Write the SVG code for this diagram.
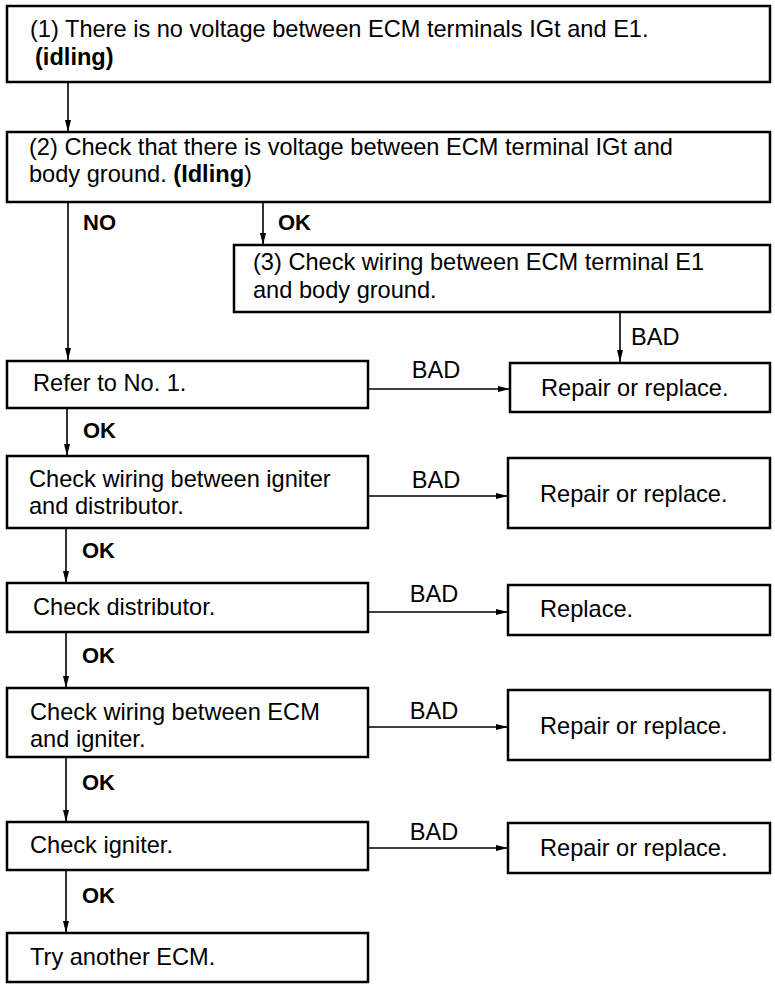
<svg xmlns="http://www.w3.org/2000/svg" width="775" height="984" viewBox="0 0 775 984">
<style>
.box{fill:#fff;stroke:#000;stroke-width:2.5}
.t{font-family:"Liberation Sans",Arial,sans-serif;font-size:23.6px;fill:#000}
.b{font-weight:bold}
.lbl{font-family:"Liberation Sans",Arial,sans-serif;font-size:22px;font-weight:bold;fill:#000}
.bad{font-family:"Liberation Sans",Arial,sans-serif;font-size:23.6px;fill:#000;text-anchor:middle}
.c{fill:none;stroke:#000;stroke-width:1.6;marker-end:url(#ah)}
</style>
<defs>
<marker id="ah" viewBox="0 0 12 8" refX="12" refY="4" markerWidth="12" markerHeight="8" markerUnits="userSpaceOnUse" orient="auto">
<path d="M0,1 L12,4 L0,7 Z" fill="#000"/>
</marker>
</defs>
<g id="connectors">
<path class="c" d="M68,82 V132"/>
<path class="c" d="M68,202 V360"/>
<path class="c" d="M263,202 V245"/>
<path class="c" d="M620,312 V362"/>
<path class="c" d="M368,389 H510"/>
<path class="c" d="M67,408 V456"/>
<path class="c" d="M368,496 H508"/>
<path class="c" d="M66,528 V583"/>
<path class="c" d="M368,612 H508"/>
<path class="c" d="M66,632 V688"/>
<path class="c" d="M368,727 H508"/>
<path class="c" d="M66,757 V822"/>
<path class="c" d="M368,848 H508"/>
<path class="c" d="M66,870 V933"/>
<text class="lbl" x="83" y="230">NO</text>
<text class="lbl" x="278" y="230">OK</text>
<text class="t" x="631" y="345">BAD</text>
<text class="bad" x="436" y="378">BAD</text>
<text class="lbl" x="83" y="438">OK</text>
<text class="bad" x="436" y="488">BAD</text>
<text class="lbl" x="82" y="558">OK</text>
<text class="bad" x="434" y="602">BAD</text>
<text class="lbl" x="82" y="663">OK</text>
<text class="bad" x="434" y="719">BAD</text>
<text class="lbl" x="82" y="790">OK</text>
<text class="bad" x="434" y="840">BAD</text>
<text class="lbl" x="82" y="903">OK</text>
</g>
<g id="n1">
<rect class="box" x="7" y="6" width="763" height="76"/>
<text class="t" x="30" y="37">(1) There is no voltage between ECM terminals IGt and E1.</text>
<text class="t b" x="35" y="65">(idling)</text>
</g>
<g id="n2">
<rect class="box" x="7" y="132" width="763" height="70"/>
<text class="t" x="29" y="155">(2) Check that there is voltage between ECM terminal IGt and</text>
<text class="t" x="29" y="182">body ground. <tspan class="b">(Idling</tspan>)</text>
</g>
<g id="n3">
<rect class="box" x="234" y="245" width="536" height="67"/>
<text class="t" x="253" y="270">(3) Check wiring between ECM terminal E1</text>
<text class="t" x="253" y="298">and body ground.</text>
</g>
<g id="n4">
<rect class="box" x="7" y="361" width="361" height="47"/>
<text class="t" x="33" y="391">Refer to No. 1.</text>
</g>
<g id="n5">
<rect class="box" x="510" y="363" width="260" height="49"/>
<text class="t" x="541" y="396">Repair or replace.</text>
</g>
<g id="n6">
<rect class="box" x="7" y="456" width="361" height="72"/>
<text class="t" x="29" y="487">Check wiring between igniter</text>
<text class="t" x="29" y="514">and distributor.</text>
</g>
<g id="n7">
<rect class="box" x="508" y="458" width="262" height="70"/>
<text class="t" x="540" y="502">Repair or replace.</text>
</g>
<g id="n8">
<rect class="box" x="7" y="583" width="361" height="49"/>
<text class="t" x="33" y="615">Check distributor.</text>
</g>
<g id="n9">
<rect class="box" x="508" y="585" width="262" height="50"/>
<text class="t" x="540" y="617">Replace.</text>
</g>
<g id="n10">
<rect class="box" x="7" y="688" width="361" height="69"/>
<text class="t" x="30" y="720">Check wiring between ECM</text>
<text class="t" x="30" y="747">and igniter.</text>
</g>
<g id="n11">
<rect class="box" x="508" y="690" width="262" height="70"/>
<text class="t" x="540" y="734">Repair or replace.</text>
</g>
<g id="n12">
<rect class="box" x="7" y="822" width="361" height="48"/>
<text class="t" x="30" y="853">Check igniter.</text>
</g>
<g id="n13">
<rect class="box" x="508" y="823" width="262" height="50"/>
<text class="t" x="540" y="856">Repair or replace.</text>
</g>
<g id="n14">
<rect class="box" x="7" y="933" width="361" height="49"/>
<text class="t" x="30" y="965">Try another ECM.</text>
</g>
</svg>
